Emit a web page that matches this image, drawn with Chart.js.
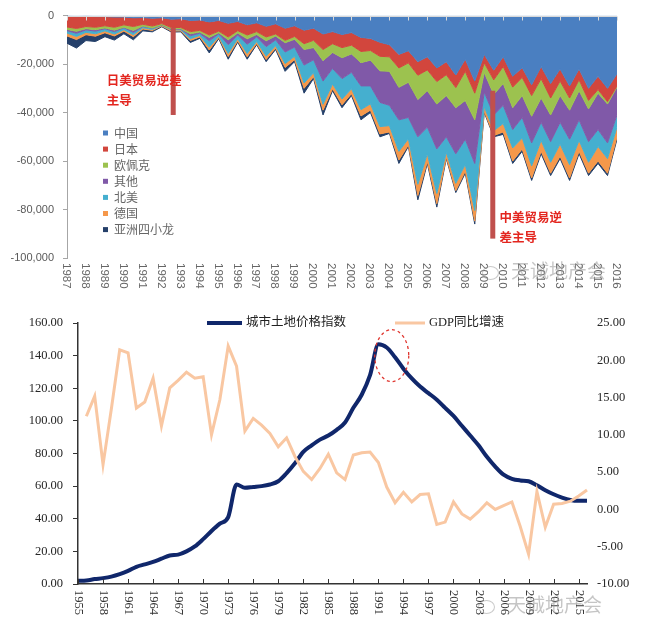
<!DOCTYPE html>
<html>
<head>
<meta charset="UTF-8">
<title>美国贸易逆差与城市土地价格指数</title>
<script src="https://cdn.jsdelivr.net/npm/chart.js@4.4.0/dist/chart.umd.min.js"></script>
<style>
  html, body { margin: 0; padding: 0; background: #fff; }
  body { width: 649px; height: 623px; position: relative; overflow: hidden; }
  canvas { position: absolute; left: 0; }
  #tradeChart { top: 0; }
  #landChart { top: 305px; }
  .mark { position: absolute; color: rgba(150,150,150,0.55); font-family: "Noto Sans CJK SC"; font-size: 19px; white-space: nowrap; }
  .mark span { display: inline-block; width: 15px; height: 12px; border: 1.5px solid rgba(150,150,150,0.5); border-radius: 50%; margin-right: 12px; vertical-align: middle; }
</style>
</head>
<body>
<canvas id="tradeChart" width="649" height="305"></canvas>
<canvas id="landChart" width="649" height="318"></canvas>
<div class="mark" style="left:482px;top:256px"><span></span>天诚地产会</div>
<div class="mark" style="left:478px;top:590px"><span></span>天诚地产会</div>

<script>
  // ---- top chart: monthly deficit by partner (USD mn), read at half-year steps ----
  const halfYears = [1987, 1987.5, 1988, 1988.5, 1989, 1989.5, 1990, 1990.5, 1991, 1991.5,
    1992, 1992.5, 1993, 1993.5, 1994, 1994.5, 1995, 1995.5, 1996, 1996.5,
    1997, 1997.5, 1998, 1998.5, 1999, 1999.5, 2000, 2000.5, 2001, 2001.5,
    2002, 2002.5, 2003, 2003.5, 2004, 2004.5, 2005, 2005.5, 2006, 2006.5,
    2007, 2007.5, 2008, 2008.5, 2009, 2009.5, 2010, 2010.5, 2011, 2011.5,
    2012, 2012.5, 2013, 2013.5, 2014, 2014.5, 2015, 2015.5, 2016];
  const yearLabels = ['1987', '1988', '1989', '1990', '1991', '1992', '1993', '1994', '1995', '1996',
    '1997', '1998', '1999', '2000', '2001', '2002', '2003', '2004', '2005', '2006',
    '2007', '2008', '2009', '2010', '2011', '2012', '2013', '2014', '2015', '2016'];

  const china = [-300, -400, -300, -400, -400, -600, -600, -900, -800, -1100,
    -900, -1500, -1300, -2000, -1800, -2600, -2000, -3200, -2400, -3800,
    -3000, -4400, -3400, -5200, -4200, -6000, -5200, -7600, -6600, -7800,
    -7000, -9000, -9400, -11000, -12000, -16000, -14500, -19000, -17000, -21600,
    -19000, -24500, -18000, -27000, -16000, -22500, -17000, -25000, -21500, -28500,
    -21000, -28000, -22000, -29000, -22000, -30000, -25000, -30000, -24000];
  const japan = [-4400, -4900, -4200, -4400, -3800, -4200, -3200, -3600, -2800, -3200,
    -2400, -3400, -3600, -4600, -4300, -5400, -4400, -5600, -3800, -4200,
    -3600, -4400, -4200, -5000, -4400, -5600, -5000, -6400, -5000, -5400,
    -5200, -5800, -5000, -5800, -5000, -5600, -5000, -5600, -5400, -5600,
    -5400, -5200, -5000, -5000, -3500, -4000, -4000, -4500, -4000, -4500,
    -5000, -6000, -5000, -5000, -4500, -5000, -5500, -5500, -5000];
  const opec = [-1000, -1200, -900, -1000, -900, -1200, -1000, -1600, -700, -800,
    -500, -600, -500, -900, -700, -1000, -700, -1200, -1000, -1600,
    -1200, -1600, -800, -1000, -1200, -2400, -3000, -4600, -3600, -4200,
    -3600, -4600, -4000, -6000, -6000, -8000, -8000, -10000, -8600, -9300,
    -8600, -8300, -12000, -11000, -4000, -6000, -7000, -8500, -7500, -8500,
    -8000, -7000, -6000, -5000, -4500, -3500, -1500, -1000, -500];
  const others = [-500, -800, -500, -600, -300, -600, -200, -800, -200, -100,
    -100, -100, -200, -800, -500, -1400, -400, -2000, -800, -2200,
    -1000, -2400, -1600, -3800, -3200, -6400, -5000, -8400, -6600, -8600,
    -7600, -9600, -10600, -13000, -14000, -13400, -14500, -15400, -15000, -18500,
    -17000, -19000, -16000, -18000, -8000, -8500, -9000, -9000, -9000, -11000,
    -10000, -11000, -11000, -12000, -12000, -13500, -15000, -16000, -11500];
  const northAmerica = [-1000, -1300, -1000, -1100, -900, -1000, -800, -1000, -500, -500,
    -100, -300, -300, -1200, -900, -2600, -1000, -3600, -1600, -3800,
    -1900, -3900, -2400, -4800, -3800, -7400, -5400, -9600, -6400, -8400,
    -6800, -9800, -7400, -10000, -8400, -13000, -8800, -19600, -11000, -18400,
    -6400, -12200, -10400, -19400, -6000, -6500, -7500, -7600, -8500, -9500,
    -7500, -8500, -9000, -10500, -8500, -8500, -7000, -6500, -5000];
  const germany = [-1200, -1300, -1000, -1000, -800, -800, -600, -800, -500, -400,
    -300, -500, -400, -800, -600, -1200, -500, -1300, -800, -1400,
    -800, -1400, -1000, -1600, -1400, -2200, -1600, -2400, -2000, -2400,
    -2000, -2600, -2600, -3000, -2600, -3600, -2600, -4600, -3200, -4200,
    -2000, -3000, -2800, -4400, -2000, -2000, -3500, -5400, -4500, -5000,
    -4500, -4500, -5000, -5500, -4500, -4500, -6000, -6000, -4000];
  const asianTigers = [-3000, -3500, -2400, -2200, -1600, -1700, -1100, -1300, -800, -600,
    -300, -400, -400, -800, -600, -1200, -500, -1100, -600, -1000,
    -500, -900, -600, -1600, -800, -2000, -800, -2000, -800, -1200,
    -800, -1600, -1000, -1200, -600, -1400, -600, -1800, -800, -1400,
    -600, -800, -800, -1200, -500, -500, -1000, -1000, -1000, -1000,
    -1000, -1000, -1000, -1000, -1000, -1000, -1000, -1000, -1000];

  const partnerNames = ['中国', '日本', '欧佩克', '其他', '北美', '德国', '亚洲四小龙'];
  const partnerSeries = [china, japan, opec, others, northAmerica, germany, asianTigers];
  const partnerColors = ['#4a7fc1', '#d2463d', '#9cc24f', '#8059a8', '#45afcf', '#f5984a', '#25406a'];

  // annotation bars and notes
  const noteYears = [1992.6, 2009.45];
  const noteTop = [-5000, -31000];
  const noteBottom = [-41000, -92000];
  const noteTextYears = [1989.1, 2009.8];
  const noteTextValues = [-26500, -83000];
  const noteLines = [['日美贸易逆差', '主导'], ['中美贸易逆', '差主导']];

  // ---- bottom chart ----
  const years = ['1955', '1956', '1957', '1958', '1959', '1960', '1961', '1962', '1963', '1964',
    '1965', '1966', '1967', '1968', '1969', '1970', '1971', '1972', '1973', '1974',
    '1975', '1976', '1977', '1978', '1979', '1980', '1981', '1982', '1983', '1984',
    '1985', '1986', '1987', '1988', '1989', '1990', '1991', '1992', '1993', '1994',
    '1995', '1996', '1997', '1998', '1999', '2000', '2001', '2002', '2003', '2004',
    '2005', '2006', '2007', '2008', '2009', '2010', '2011', '2012', '2013', '2014',
    '2015', '2016'];
  const landIndex = [2.0, 2.2, 3.0, 3.6, 4.5, 6.0, 8.0, 10.5, 12.0, 13.5,
    15.5, 17.5, 18.0, 20.0, 23.0, 27.5, 32.5, 37.0, 41.0, 61.0,
    59.0, 59.5, 60.0, 61.0, 63.0, 68.0, 74.0, 81.0, 85.0, 88.5,
    91.0, 94.5, 99.0, 108.0, 116.0, 128.0, 147.0, 145.0, 139.0, 132.0,
    126.0, 121.0, 117.0, 113.0, 108.0, 103.0, 97.0, 91.0, 85.0, 78.0,
    72.0, 67.0, 64.5, 63.5, 63.0, 60.5, 57.5, 55.0, 53.0, 51.5,
    51.0, 51.0];
  const gdpGrowth = [null, 12.5, 15.2, 6.0, 13.5, 21.4, 21.0, 13.6, 14.4, 17.6,
    11.2, 16.3, 17.3, 18.4, 17.6, 17.8, 10.0, 14.7, 21.9, 19.2,
    10.5, 12.2, 11.3, 10.2, 8.4, 9.6, 7.1, 5.1, 4.0, 5.5,
    7.4, 4.9, 4.0, 7.3, 7.6, 7.7, 6.3, 3.0, 0.9, 2.3,
    1.0, 2.0, 2.1, -2.0, -1.7, 1.0, -0.6, -1.3, -0.3, 0.9,
    0.0, 0.5, 1.0, -2.3, -6.0, 2.4, -2.4, 0.7, 0.8, 1.1,
    1.8, 2.6];
  const peakYear = 1992.6;   // dashed ring around the land price peak
  const peakValue = 140;

  const cjk = '"Noto Sans CJK SC", sans-serif';

  const tradeDecor = {
    id: 'tradeDecor',
    afterDatasetsDraw(chart) {
      const {ctx, chartArea, scales: {x, y}} = chart;
      ctx.save();
      // category axis crossing at zero, ticks pointing in
      const y0 = Math.round(y.getPixelForValue(0)) + 0.5;
      ctx.strokeStyle = '#d9d9d9';
      ctx.lineWidth = 1;
      ctx.beginPath();
      ctx.moveTo(chartArea.left, y0);
      ctx.lineTo(chartArea.right, y0);
      yearLabels.forEach(lbl => {
        const px = Math.round(x.getPixelForValue(+lbl)) + 0.5;
        ctx.moveTo(px, y0);
        ctx.lineTo(px, y0 + 4);
      });
      ctx.stroke();

      ctx.fillStyle = '#c0504d';
      noteYears.forEach((yr, k) => {
        const px = x.getPixelForValue(yr);
        const t = y.getPixelForValue(noteTop[k]);
        const b = y.getPixelForValue(noteBottom[k]);
        ctx.fillRect(px - 2.5, t, 5, b - t);
      });

      ctx.fillStyle = '#e3261f';
      ctx.font = 'bold 12.5px ' + cjk;
      ctx.textAlign = 'left';
      ctx.textBaseline = 'middle';
      noteLines.forEach((lines, k) => {
        const px = x.getPixelForValue(noteTextYears[k]);
        const py = y.getPixelForValue(noteTextValues[k]);
        lines.forEach((s, j) => ctx.fillText(s, px, py + j * 20));
      });
      ctx.restore();
    },
    afterDraw(chart) {
      const {ctx, chartArea, scales: {x}} = chart;
      ctx.save();
      // legend inside plot
      ctx.font = '12px ' + cjk;
      ctx.textAlign = 'left';
      ctx.textBaseline = 'middle';
      chart.data.datasets.forEach((ds, k) => {
        const cy = 133 + k * 16.1;
        ctx.fillStyle = ds.backgroundColor;
        ctx.fillRect(103, cy - 2.5, 5, 5);
        ctx.fillStyle = '#666';
        ctx.fillText(ds.label, 114, cy);
      });
      // year labels, vertical
      ctx.font = '11.5px "Liberation Sans", sans-serif';
      ctx.fillStyle = '#666';
      yearLabels.forEach(lbl => {
        const px = x.getPixelForValue(+lbl);
        ctx.save();
        ctx.translate(px - 1, chartArea.bottom + 5);
        ctx.rotate(Math.PI / 2);
        ctx.fillText(lbl, 0, 0);
        ctx.restore();
      });
      ctx.restore();
    }
  };

  new Chart(document.getElementById('tradeChart'), {
    type: 'line',
    data: {
      datasets: partnerSeries.map((vals, k) => ({
        label: partnerNames[k],
        data: vals.map((v, i) => ({x: halfYears[i], y: v})),
        backgroundColor: partnerColors[k],
        borderColor: partnerColors[k],
        borderWidth: 1,
        pointRadius: 0,
        tension: 0,
        fill: k === 0 ? 'origin' : '-1'
      }))
    },
    options: {
      responsive: false,
      animation: false,
      layout: {padding: {top: 12, right: 32, bottom: 0, left: 0}},
      plugins: {legend: {display: false}, tooltip: {enabled: false}},
      scales: {
        x: {
          type: 'linear', min: 1987, max: 2016,
          grid: {display: false}, border: {display: false},
          ticks: {display: false},
          afterFit: s => { s.height = 47; }
        },
        y: {
          stacked: true, min: -100000, max: 0,
          ticks: {
            stepSize: 20000,
            callback: v => v.toLocaleString('en-US'),
            font: {family: '"Liberation Sans", sans-serif', size: 11},
            color: '#595959', padding: 9
          },
          grid: {drawOnChartArea: false, tickLength: 4, color: '#a6a6a6'},
          border: {color: '#a6a6a6'},
          afterFit: s => { s.width = 67; }
        }
      }
    },
    plugins: [tradeDecor]
  });

  const landDecor = {
    id: 'landDecor',
    afterDraw(chart) {
      const {ctx, chartArea, scales: {x, y}} = chart;
      ctx.save();
      // inner tick marks and vertical year labels every 3 years
      ctx.strokeStyle = '#333';
      ctx.lineWidth = 1;
      ctx.font = '12.5px "Liberation Serif", serif';
      ctx.fillStyle = '#333';
      ctx.textAlign = 'left';
      ctx.textBaseline = 'middle';
      years.forEach((lbl, i) => {
        if (i % 3 !== 0) return;
        const px = Math.round(x.getPixelForValue(i)) + 0.5;
        ctx.beginPath();
        ctx.moveTo(px, chartArea.bottom);
        ctx.lineTo(px, chartArea.bottom - 5);
        ctx.stroke();
        ctx.save();
        ctx.translate(px, chartArea.bottom + 6);
        ctx.rotate(Math.PI / 2);
        ctx.fillText(lbl, 0, 0);
        ctx.restore();
      });

      // dashed ring at the peak
      const idx = years.indexOf(String(Math.floor(peakYear))) + (peakYear % 1);
      ctx.strokeStyle = '#e0362f';
      ctx.lineWidth = 1.3;
      ctx.setLineDash([3, 3]);
      ctx.beginPath();
      ctx.ellipse(x.getPixelForValue(idx), y.getPixelForValue(peakValue), 17, 26, 0, 0, Math.PI * 2);
      ctx.stroke();
      ctx.setLineDash([]);

      // legend along the top
      const ly = chartArea.top;
      const items = [{x: 207, w: 35}, {x: 395, w: 30}];
      ctx.font = '12.5px "Liberation Serif", ' + cjk;
      ctx.textBaseline = 'middle';
      chart.data.datasets.forEach((ds, k) => {
        ctx.strokeStyle = ds.borderColor;
        ctx.lineWidth = ds.borderWidth;
        ctx.beginPath();
        ctx.moveTo(items[k].x, ly);
        ctx.lineTo(items[k].x + items[k].w, ly);
        ctx.stroke();
        ctx.fillStyle = '#222';
        ctx.fillText(ds.label, items[k].x + items[k].w + 4, ly);
      });
      ctx.restore();
    }
  };

  new Chart(document.getElementById('landChart'), {
    type: 'line',
    data: {
      labels: years,
      datasets: [
        {label: '城市土地价格指数', data: landIndex, yAxisID: 'y', borderColor: '#10276b', borderWidth: 4,
         pointRadius: 0, cubicInterpolationMode: 'monotone', order: 1},
        {label: 'GDP同比增速', data: gdpGrowth, yAxisID: 'y1', borderColor: '#f9c7a2', borderWidth: 3,
         pointRadius: 0, tension: 0, order: 0}
      ]
    },
    options: {
      responsive: false,
      animation: false,
      layout: {padding: {top: 18, right: 0, bottom: 0, left: 0}},
      plugins: {legend: {display: false}, tooltip: {enabled: false}},
      scales: {
        x: {
          grid: {display: false},
          border: {color: '#333', width: 1.5},
          ticks: {display: false},
          afterFit: s => { s.height = 39; }
        },
        y: {
          position: 'left', min: 0, max: 160,
          ticks: {
            stepSize: 20, callback: v => v.toFixed(2),
            font: {family: '"Liberation Serif", serif', size: 12.5}, color: '#262626', padding: 10
          },
          grid: {drawOnChartArea: false, tickLength: 5, color: '#333'},
          border: {color: '#333', width: 1.5},
          afterFit: s => { s.width = 78; }
        },
        y1: {
          position: 'right', min: -10, max: 25,
          ticks: {
            stepSize: 5, callback: v => v.toFixed(2),
            font: {family: '"Liberation Serif", serif', size: 12.5}, color: '#262626', padding: 10
          },
          grid: {display: false, drawTicks: false},
          border: {display: false},
          afterFit: s => { s.width = 62; }
        }
      }
    },
    plugins: [landDecor]
  });
</script>
</body>
</html>
